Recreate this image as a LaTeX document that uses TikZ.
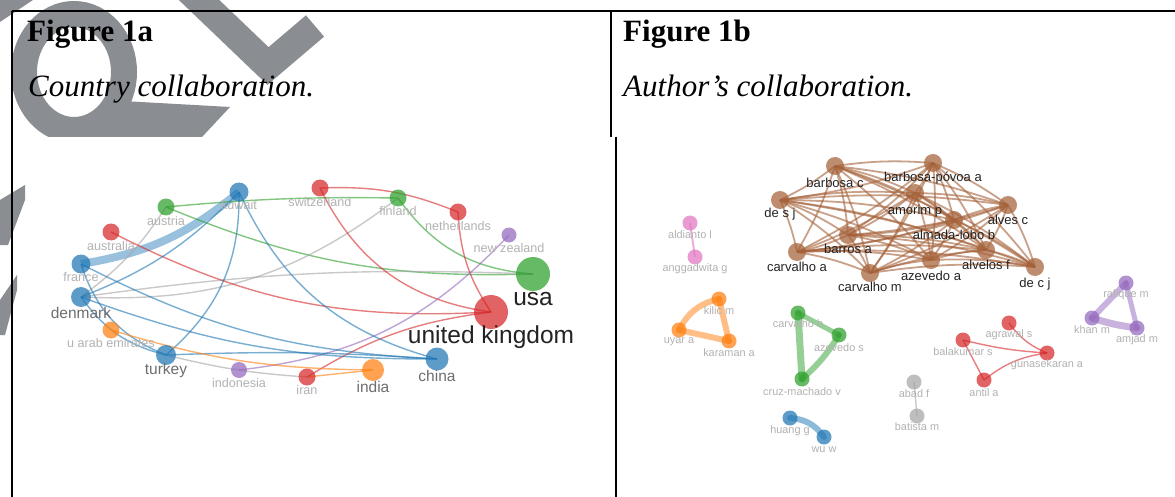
\documentclass[tikz,border=0pt]{standalone}
\usepackage{fontspec}
\setmainfont{Liberation Serif}
\setsansfont{Liberation Sans}
\usetikzlibrary{calc}

\definecolor{vred}{RGB}{214,39,40}
\definecolor{vgreen}{RGB}{44,160,44}
\definecolor{vblue}{RGB}{31,119,180}
\definecolor{vorange}{RGB}{255,127,14}
\definecolor{vpurple}{RGB}{148,103,189}
\definecolor{vbrown}{RGB}{165,98,58}
\definecolor{vpink}{RGB}{227,119,194}
\definecolor{vgrey}{RGB}{165,165,165}
\definecolor{labgrey}{RGB}{178,178,178}
\definecolor{labmid}{RGB}{110,110,110}
\definecolor{labdark}{RGB}{35,35,35}
\definecolor{wmgrey}{RGB}{138,141,146}

\pgfdeclarelayer{back}
\pgfdeclarelayer{edges}
\pgfsetlayers{back,edges,main}

\tikzset{
  dot/.style={circle, fill=#1, fill opacity=0.72, inner sep=0pt, minimum size=17pt},
  lab/.style={font=\sffamily\fontsize{12.6}{13}\selectfont, text=labgrey, text opacity=1, inner sep=0pt},
  labm/.style={lab, font=\sffamily\fontsize{15.5}{16}\selectfont, text=labmid},
  labb/.style={lab, font=\sffamily\fontsize{24.5}{26}\selectfont, text=labdark},
  labs/.style={lab, font=\sffamily\fontsize{10.9}{12}\selectfont},
  labk/.style={lab, font=\sffamily\fontsize{13}{14}\selectfont, text=labdark},
  lbl/.style n args={3}{label={[#1,yshift=-#2pt]center:#3}},
  link/.style={draw=#1, draw opacity=0.6, line width=1.4pt},
  heavy/.style={link=#1, draw opacity=0.5, line width=6pt, line cap=round},
  title/.style={anchor=base west, inner sep=0pt, font=\fontsize{31}{36}\selectfont},
  rule/.style={line width=2pt}
}

\begin{document}
\begin{tikzpicture}[x=1pt,y=-1pt]
\useasboundingbox (0,0) rectangle (1175,497);

\begin{pgfonlayer}{back}
  \fill[white] (0,0) rectangle (1175,497);
  % watermark, only where the figures leave the page bare
  \begin{scope}
    \clip (0,0) rectangle (330,137) (0,0) rectangle (26,497);
    \draw[wmgrey, line width=26pt] (74,72) ellipse [x radius=50, y radius=58];
    \fill[wmgrey] (105,100) -- (230,107) -- (202,137) -- (95,137) -- cycle;
    \draw[wmgrey, line width=28pt, line join=miter] (173,-25) -- (268,66) -- (315,26);
    \fill[wmgrey] (0,0) -- (33,0) -- (0,22) -- cycle;
    \fill[wmgrey] (0,200) -- (25,185) -- (25,200) -- (8,245) -- (0,245) -- cycle;
    \fill[wmgrey] (0,300) -- (17,275) -- (17,290) -- (5,335) -- (0,335) -- cycle;
  \end{scope}
\end{pgfonlayer}

% table frame
\draw[rule] (12,11) -- (1175,11);
\draw[rule] (12,11) -- (12,497);
\draw[rule] (611,11) -- (611,137);
\draw[rule] (616,137) -- (616,497);

\node[title, font=\bfseries\fontsize{31}{36}\selectfont] (ta) at (27,42) {Figure 1a};
\node[title, font=\itshape\fontsize{31}{36}\selectfont] (ca) at (28,97) {Country collaboration.};
\node[title, font=\bfseries\fontsize{31}{36}\selectfont] (tb) at (623,42) {Figure 1b};
\node[title, font=\itshape\fontsize{31}{36}\selectfont] (cb) at (623,97) {Author’s collaboration.};

% countries
\node[dot=vblue, minimum size=19pt, lbl={lab}{13}{kuwait}] (kuwait) at (239,192) {};
\node[dot=vgreen, lbl={lab}{14}{austria}] (austria) at (166,207) {};
\node[dot=vred, lbl={lab}{14}{australia}] (australia) at (111,232) {};
\node[dot=vblue, minimum size=19pt, lbl={lab}{13}{france}] (france) at (81,264) {};
\node[dot=vblue, minimum size=20pt, lbl={labm}{16}{denmark}] (denmark) at (81,297) {};
\node[dot=vorange, lbl={lab}{13}{u arab emirates}] (uae) at (111,330) {};
\node[dot=vblue, minimum size=20pt, lbl={labm}{15}{turkey}] (turkey) at (166,355) {};
\node[dot=vpurple, minimum size=16pt, lbl={lab}{13}{indonesia}] (indonesia) at (239,370) {};
\node[dot=vred, lbl={lab}{13}{iran}] (iran) at (307,377) {};
\node[dot=vorange, minimum size=22pt, lbl={labm}{17}{india}] (india) at (373,370) {};
\node[dot=vblue, minimum size=23pt, lbl={labm}{17}{china}] (china) at (437,359) {};
\node[dot=vred, minimum size=34pt, lbl={labb}{25}{united kingdom}] (uk) at (491,312) {};
\node[dot=vgreen, minimum size=34pt, lbl={labb}{25}{usa}] (usa) at (533,274) {};
\node[dot=vpurple, minimum size=15pt, lbl={lab}{13}{new zealand}] (nz) at (509,235) {};
\node[dot=vred, lbl={lab}{14}{netherlands}] (netherlands) at (458,212) {};
\node[dot=vgreen, lbl={lab}{13}{finland}] (finland) at (398,198) {};
\node[dot=vred, lbl={lab}{14}{switzerland}] (switzerland) at (320,188) {};

\begin{pgfonlayer}{edges}
  \draw[link=vblue, draw opacity=0.45, line width=8pt] (france.center) to[bend right=15] (kuwait.center);
  \draw[link=vgreen] (austria.center) to[bend left=3] (finland.center);
  \draw[link=vgreen] (austria.center) to[bend right=12] (usa.center);
  \draw[link=vgreen] (finland.center) to[bend right=25] (usa.center);
  \draw[link=vgrey] (denmark.center) to[bend right=20] (finland.center);
  \draw[link=vgrey] (denmark.center) to[bend left=5] (usa.center);
  \draw[link=vgrey] (austria.center) to[bend left=10] (denmark.center);
  \draw[link=vred] (australia.center) to[bend right=15] (uk.center);
  \draw[link=vred] (switzerland.center) to[bend right=28] (uk.center);
  \draw[link=vred] (switzerland.center) to[bend left=12] (netherlands.center);
  \draw[link=vred] (netherlands.center) to[bend right=15] (uk.center);
  \draw[link=vred] (iran.center) to[bend left=12] (uk.center);
  \draw[link=vpurple] (indonesia.center) to[bend right=20] (nz.center);
  \draw[link=vblue] (kuwait.center) to[bend left=25] (turkey.center);
  \draw[link=vblue] (kuwait.center) to[bend left=12] (denmark.center);
  \draw[link=vblue] (kuwait.center) to[bend right=25] (china.center);
  \draw[link=vblue] (france.center) to[bend right=12] (china.center);
  \draw[link=vblue] (denmark.center) to[bend right=10] (china.center);
  \draw[link=vblue] (france.center) to[bend right=25] (turkey.center);
  \draw[link=vblue] (denmark.center) to[bend right=20] (turkey.center);
  \draw[link=vblue] (turkey.center) to[bend left=3] (china.center);
  \draw[link=vorange] (uae.center) to[bend right=8] (india.center);
  \draw[link=vorange] (iran.center) -- (india.center);
  \draw[link=vgrey] (turkey.center) to[bend right=5] (iran.center);
\end{pgfonlayer}

% authors, main cluster
\node[dot=vbrown, minimum size=18pt, lbl={labk}{17}{barbosa c}] (bc) at (835,166) {};
\node[dot=vbrown, minimum size=18pt, lbl={labk}{15}{barbosa-póvoa a}] (bpa) at (933,163) {};
\node[dot=vbrown, minimum size=18pt, lbl={labk}{14}{de s j}] (dsj) at (780,200) {};
\node[dot=vbrown, minimum size=18pt, lbl={labk}{18}{amorim p}] (amp) at (915,193) {};
\node[dot=vbrown, minimum size=18pt, lbl={labk}{15}{almada-lobo b}] (alb) at (954,220) {};
\node[dot=vbrown, minimum size=18pt, lbl={labk}{15}{alves c}] (alc) at (1008,205) {};
\node[dot=vbrown, minimum size=18pt, lbl={labk}{14}{barros a}] (bra) at (848,235) {};
\node[dot=vbrown, minimum size=18pt, lbl={labk}{15}{carvalho a}] (cva) at (797,252) {};
\node[dot=vbrown, minimum size=18pt, lbl={labk}{14}{carvalho m}] (cvm) at (870,273) {};
\node[dot=vbrown, minimum size=18pt, lbl={labk}{16}{azevedo a}] (aza) at (931,260) {};
\node[dot=vbrown, minimum size=18pt, lbl={labk}{15}{alvelos f}] (alf) at (986,250) {};
\node[dot=vbrown, minimum size=18pt, lbl={labk}{17}{de c j}] (dcj) at (1035,267) {};

% authors, small groups
\node[dot=vpink, minimum size=15pt, lbl={labs}{12}{aldianto l}] (ald) at (690,223) {};
\node[dot=vpink, minimum size=15pt, lbl={labs}{12}{anggadwita g}] (ang) at (695,257) {};
\node[dot=vorange, minimum size=15pt, lbl={labs}{12}{kilic m}] (kil) at (719,299) {};
\node[dot=vorange, minimum size=15pt, lbl={labs}{12}{uyar a}] (uya) at (679,330) {};
\node[dot=vorange, minimum size=15pt, lbl={labs}{12}{karaman a}] (kar) at (729,341) {};
\node[dot=vgreen, minimum size=15pt, lbl={labs}{11}{carvalho h}] (cvh) at (798,313) {};
\node[dot=vgreen, minimum size=15pt, lbl={labs}{13}{azevedo s}] (azs) at (839,335) {};
\node[dot=vgreen, minimum size=15pt, lbl={labs}{13}{cruz-machado v}] (czm) at (802,379) {};
\node[dot=vblue, minimum size=15pt, lbl={labs}{13}{huang g}] (hua) at (790,418) {};
\node[dot=vblue, minimum size=15pt, lbl={labs}{13}{wu w}] (wuw) at (824,437) {};
\node[dot=vgrey, minimum size=15pt, lbl={labs}{12}{abad f}] (abd) at (914,382) {};
\node[dot=vgrey, minimum size=15pt, lbl={labs}{11}{batista m}] (bat) at (917,416) {};
\node[dot=vred, minimum size=15pt, lbl={labs}{12}{agrawal s}] (agr) at (1009,323) {};
\node[dot=vred, minimum size=15pt, lbl={labs}{12}{balakumar s}] (bal) at (963,340) {};
\node[dot=vred, minimum size=15pt, lbl={labs}{12}{gunasekaran a}] (gun) at (1047,353) {};
\node[dot=vred, minimum size=15pt, lbl={labs}{13}{antil a}] (ant) at (984,380) {};
\node[dot=vpurple, minimum size=15pt, lbl={labs}{12}{rafique m}] (raf) at (1126,283) {};
\node[dot=vpurple, minimum size=15pt, lbl={labs}{12}{khan m}] (kha) at (1092,318) {};
\node[dot=vpurple, minimum size=15pt, lbl={labs}{12}{amjad m}] (amj) at (1137,328) {};

\begin{pgfonlayer}{edges}
  \foreach \s [count=\i] in {bc,bpa,dsj,amp,alb,alc,bra,cva,cvm,aza,alf,dcj}
    \foreach \t [count=\j] in {bc,bpa,dsj,amp,alb,alc,bra,cva,cvm,aza,alf,dcj}
      {\ifnum\j>\i\relax \draw[link=vbrown, draw opacity=0.6, line width=1.8pt] (\s.center) to[bend left=6] (\t.center); \fi}
  \draw[link=vpink, line width=2pt] (ald.center) -- (ang.center);
  \draw[heavy=vorange] (kil.center) to[bend right=25] (uya.center);
  \draw[heavy=vorange] (uya.center) -- (kar.center);
  \draw[heavy=vorange] (kil.center) -- (kar.center);
  \draw[heavy=vgreen, line width=7pt] (cvh.center) -- (czm.center);
  \draw[heavy=vgreen, line width=5pt] (cvh.center) -- (azs.center);
  \draw[heavy=vgreen] (azs.center) to[bend left=8] (czm.center);
  \draw[heavy=vblue] (hua.center) to[bend left=25] (wuw.center);
  \draw[link=vgrey] (abd.center) -- (bat.center);
  \draw[link=vred] (bal.center) to[bend right=5] (gun.center);
  \draw[link=vred] (bal.center) -- (ant.center);
  \draw[link=vred] (ant.center) to[bend left=15] (gun.center);
  \draw[link=vred] (agr.center) to[bend right=15] (gun.center);
  \draw[heavy=vpurple] (raf.center) -- (kha.center);
  \draw[heavy=vpurple, line width=7pt] (kha.center) to[bend right=5] (amj.center);
  \draw[heavy=vpurple, line width=5pt] (raf.center) -- (amj.center);
\end{pgfonlayer}
\end{tikzpicture}
\end{document}
